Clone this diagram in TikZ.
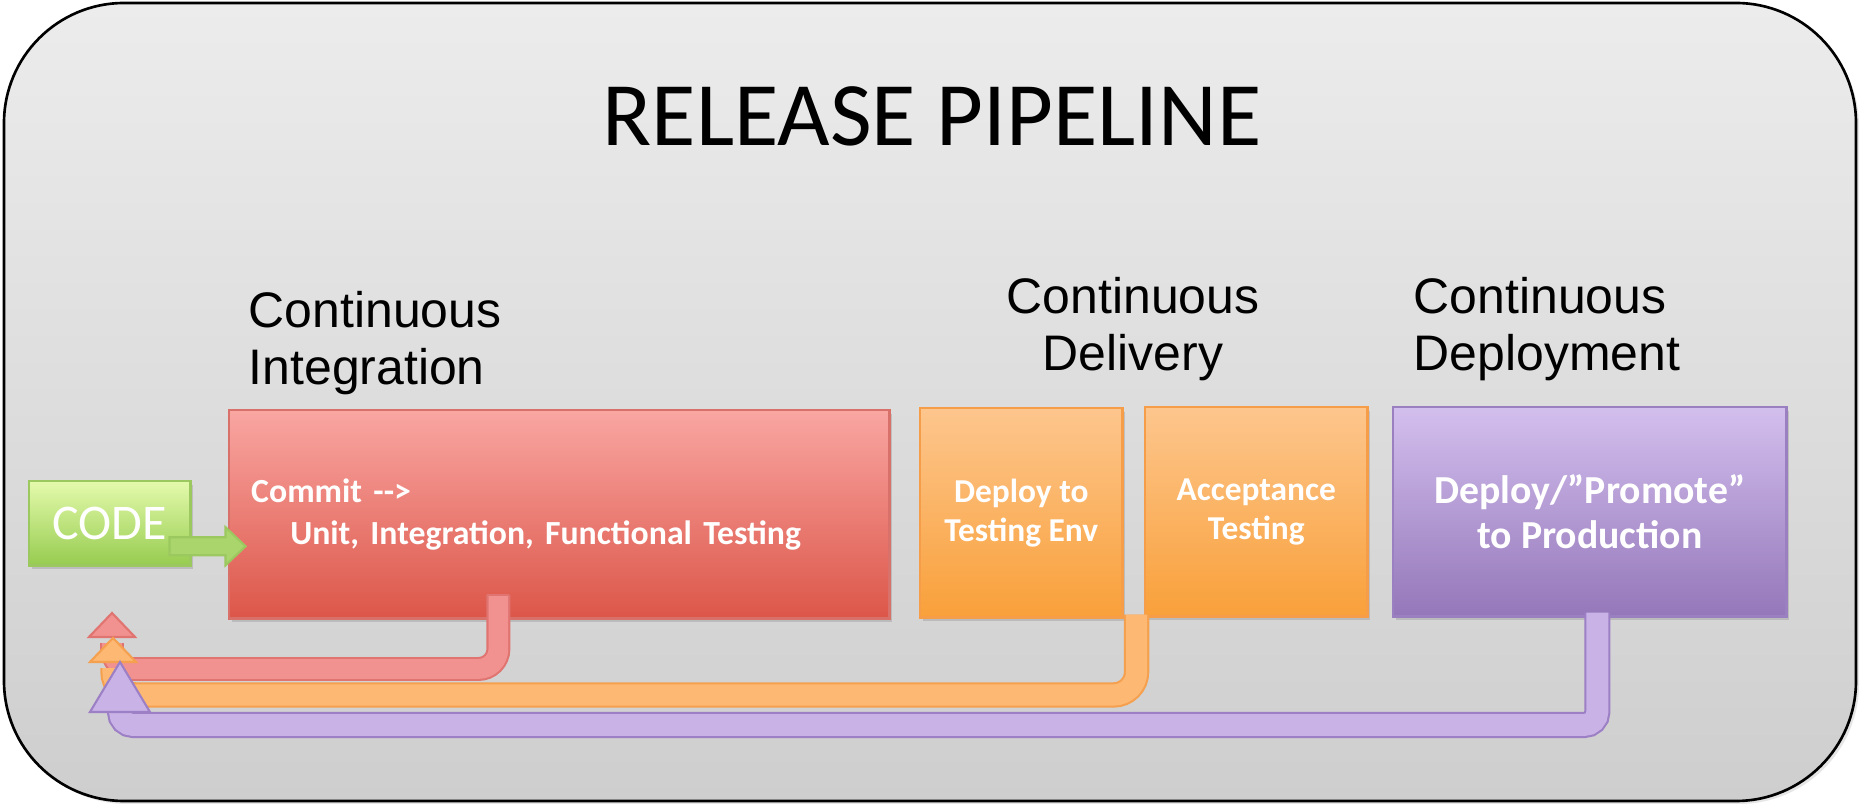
\documentclass[tikz,border=0pt]{standalone}
\usepackage{fontspec}
\setmainfont{Carlito}
\newfontfamily\headfont{Liberation Sans}
\usetikzlibrary{shadows,calc}
\frenchspacing

\definecolor{frametop}{HTML}{ECECEC}
\definecolor{framebot}{HTML}{CECECE}
\definecolor{redtop}{HTML}{F9A6A2}
\definecolor{redbot}{HTML}{DC5649}
\definecolor{redline}{HTML}{D9716B}
\definecolor{orgtop}{HTML}{FDC68D}
\definecolor{orgbot}{HTML}{F9A03A}
\definecolor{orgline}{HTML}{F59D49}
\definecolor{purtop}{HTML}{D3BFEE}
\definecolor{purbot}{HTML}{9477B9}
\definecolor{purline}{HTML}{9A80C0}
\definecolor{grntop}{HTML}{E4FAAC}
\definecolor{grnbot}{HTML}{97CC50}
\definecolor{grnline}{HTML}{9CC95F}
\definecolor{grnarrow}{HTML}{AAD56D}
\definecolor{bandred}{HTML}{F29290}
\definecolor{bandredline}{HTML}{E07470}
\definecolor{bandorg}{HTML}{FDB873}
\definecolor{bandorgline}{HTML}{F5A04E}
\definecolor{bandpur}{HTML}{C8B2E6}
\definecolor{bandpurline}{HTML}{9C7FC4}

\begin{document}
\begin{tikzpicture}[x=0.01cm,y=-0.01cm,
  boxshadow/.style={drop shadow={shadow xshift=0.025cm, shadow yshift=-0.035cm, opacity=0.3}},
  stagebox/.style={draw, line width=0.7pt, inner sep=0pt, anchor=north west, boxshadow, text=white, align=center},
  heading/.style={inner sep=0pt, align=left, font=\headfont\fontsize{14.2}{16.2}\selectfont},
  band/.style={line width=0.6pt, line cap=butt},
  headtip/.style={line width=0.6pt, line join=miter}
]
\useasboundingbox (0,0) rectangle (1860,804);

% outer frame
\draw[line width=0.75pt, rounded corners=1.2cm, top color=frametop, bottom color=framebot,
      drop shadow={shadow xshift=0.03cm, shadow yshift=-0.03cm, opacity=0.2}]
  (4,3) rectangle (1856,801);

% title
\node[inner sep=0pt, anchor=north, font=\fontsize{25.8}{30}\selectfont] (title) at (932,86) {RELEASE PIPELINE};

% headings
\node[heading, anchor=north west] (hci) at (248,291) {Continuous\\Integration};
\node[heading, anchor=north, align=center] (hcd) at (1133,277) {Continuous\\Delivery};
\node[heading, anchor=north west] (hcp) at (1413,277) {Continuous\\Deployment};

% boxes
\node[stagebox, top color=grntop, bottom color=grnbot, draw=grnline,
      minimum width=1.61cm, minimum height=0.84cm,
      font=\fontsize{14.2}{16}\selectfont] (code) at (28,480) {CODE};

\node[stagebox, top color=redtop, bottom color=redbot, draw=redline,
      minimum width=6.6cm, minimum height=2.08cm, text width=6.16cm, align=left,
      font=\bfseries\fontsize{9.6}{11.95}\selectfont] (ci) at (228,409)
      {Commit {-}{-}>\\\hspace*{0.39cm}Unit, Integration, Functional Testing};

\node[stagebox, top color=orgtop, bottom color=orgbot, draw=orgline,
      minimum width=2.02cm, minimum height=2.09cm,
      font=\bfseries\fontsize{9.5}{11.1}\selectfont] (dte) at (919,407)
      {Deploy to\\Testing Env};

\node[stagebox, top color=orgtop, bottom color=orgbot, draw=orgline,
      minimum width=2.22cm, minimum height=2.09cm,
      font=\bfseries\fontsize{9.5}{11.1}\selectfont] (acc) at (1144,406)
      {Acceptance\\Testing};

\node[stagebox, top color=purtop, bottom color=purbot, draw=purline,
      minimum width=3.93cm, minimum height=2.09cm,
      font=\bfseries\fontsize{11.3}{12.8}\selectfont] (cdp) at (1392,406)
      {Deploy/”Promote”\\to Production};

% green arrow CODE -> CI
\coordinate (gs) at ([xshift=-0.22cm, yshift=-0.23cm]code.east);
\filldraw[fill=grnarrow, draw=grnline, line width=0.6pt, line join=miter]
  (gs) ++(0,-9) -- ++(56,0) -- ++(0,-10) -- ++(20,19) -- ++(-20,19) -- ++(0,-10) -- ++(-56,0) -- cycle;

% feedback loops
\coordinate (tipR) at (112,613);
\coordinate (tipO) at (113,638);
\coordinate (tipP) at (120,662);

% red loop
\coordinate (rs) at ([xshift=-0.61cm, yshift=0.25cm]ci.south);
\draw[band, draw=bandredline, double=bandred, double distance=5.6pt, rounded corners=0.2cm]
  (rs) -- (rs |- 0,669) -- (tipR |- 0,669) -- ([yshift=-0.3cm]tipR);
\draw[bandredline, line width=0.6pt] ([xshift=-3.1pt]rs) -- ([xshift=3.1pt]rs);
\filldraw[headtip, fill=bandred, draw=bandredline] (tipR) -- ++(-23,24) -- ++(46,0) -- cycle;

% orange loop
\coordinate (os) at ([xshift=0.13cm, yshift=0.04cm]dte.south east);
\draw[band, draw=bandorgline, double=bandorg, double distance=6.0pt, rounded corners=0.23cm]
  (os) -- (os |- 0,695) -- (tipO |- 0,695) -- ([yshift=-0.3cm]tipO);
\filldraw[headtip, fill=bandorg, draw=bandorgline] (tipO) -- ++(-23,24) -- ++(46,0) -- cycle;

% purple loop
\coordinate (ps) at ([xshift=0.075cm, yshift=0.05cm]cdp.south);
\draw[band, draw=bandpurline, double=bandpur, double distance=6.2pt, rounded corners=0.13cm]
  (ps) -- (ps |- 0,725) -- (tipP |- 0,725) -- ([yshift=-0.45cm]tipP);
\filldraw[headtip, fill=bandpur, draw=bandpurline] (tipP) -- ++(-30,50) -- ++(60,0) -- cycle;

\end{tikzpicture}
\end{document}
